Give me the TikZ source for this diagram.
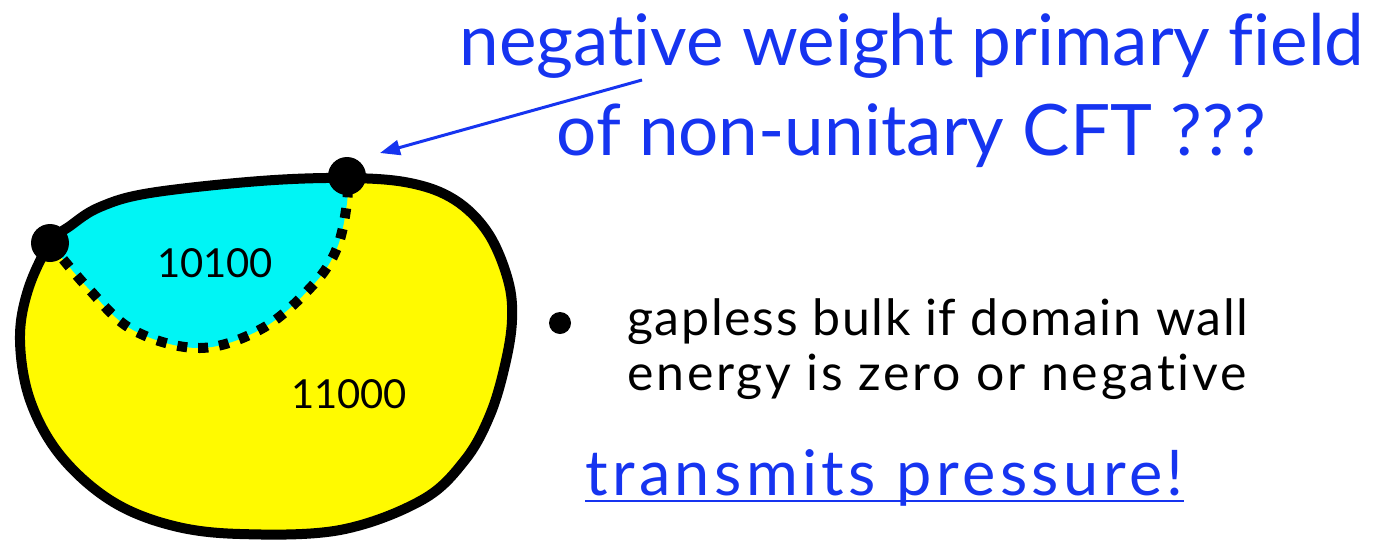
\documentclass[tikz,border=0pt]{standalone}
\usepackage{fontspec}
\setmainfont{Lato}[Ligatures={NoCommon}]
\usetikzlibrary{arrows.meta}
\definecolor{tblue}{RGB}{22,52,240}
\definecolor{byellow}{RGB}{255,250,0}
\definecolor{bcyan}{RGB}{0,245,245}
\tikzset{
  title/.style={text=tblue, inner sep=0pt, anchor=base, font=\fontsize{71}{80}\selectfont},
  bodytext/.style={text=black, inner sep=0pt, anchor=base west, font=\fontsize{50}{60}\selectfont\addfontfeatures{LetterSpace=3.4}},
  linktext/.style={text=tblue, inner sep=0pt, anchor=base west, font=\fontsize{63}{66}\selectfont\addfontfeatures{LetterSpace=7}},
  region/.style={text=black, inner sep=0pt, anchor=base, font=\fontsize{40}{50}\selectfont},
  outline/.style={draw=black, line width=10pt, line join=round},
  wall/.style={draw=black, line width=10pt, dash pattern=on 10pt off 11pt},
  vertex/.style={circle, fill=black, inner sep=0pt, minimum size=38pt},
  pointer/.style={draw=tblue, line width=3pt, -{Triangle[length=20pt,width=15pt]}},
}
\begin{document}
\begin{tikzpicture}[x=1pt, y=-1pt]
\useasboundingbox (0,0) rectangle (1382,547);
% yellow blob
\fill[byellow] plot[smooth cycle, tension=0.6] coordinates {
 (50,243) (70,226) (100,207) (150,193) (260,181) (347,178) (410,183) (455,200)
 (488,233) (508,280) (512,320) (505,365) (490,415) (465,460) (422,500) (340,530)
 (240,534) (170,525) (110,500) (60,455) (30,400) (20,340) (28,290)};
% cyan region
\fill[bcyan] plot[smooth, tension=0.6] coordinates {
 (50,243) (70,226) (100,207) (150,193) (260,181) (347,178)}
 -- plot[smooth, tension=0.6] coordinates {
 (347,178) (347,203) (337,248) (313,285) (263,328) (200,348) (133,330) (87,287) (50,243)} -- cycle;
% domain wall
\draw[wall] plot[smooth, tension=0.6] coordinates {
 (50,243) (87,287) (133,330) (200,348) (263,328) (313,285) (337,248) (347,203) (347,178)};
% outline
\draw[outline] plot[smooth cycle, tension=0.6] coordinates {
 (50,243) (70,226) (100,207) (150,193) (260,181) (347,178) (410,183) (455,200)
 (488,233) (508,280) (512,320) (505,365) (490,415) (465,460) (422,500) (340,530)
 (240,534) (170,525) (110,500) (60,455) (30,400) (20,340) (28,290)};
% dots
\node[vertex] (dotL) at (50,243) {};
\node[vertex] (dotR) at (347,176) {};
% region labels
\node[region] (lab1) at (215,277) {10100};
\node[region] (lab2) at (349,408) {11000};
% title
\node[title] (t1) at (912,65) {negative weight primary field};
\node[title] (t2) at (911,155) {of non-unitary CFT ???};
% arrow
\coordinate (arrS) at (642,80);
\coordinate (arrE) at (380,153);
\draw[pointer] (arrS) -- (arrE);
% bullet
\node[circle, fill=black, inner sep=0pt, minimum size=22pt] (bul) at (560,323) {};
\node[bodytext] (b1) at (627,335) {gapless bulk if domain wall};
\node[bodytext, font=\fontsize{50}{60}\selectfont\addfontfeatures{LetterSpace=5.5}] (b2) at (627,390) {energy is zero or negative};
% link
\node[linktext] (tp) at (585,495) {transmits pressure!};
\draw[tblue, line width=2.5pt] ([yshift=-6pt]tp.base west) -- ([yshift=-6pt]tp.base east);
\end{tikzpicture}
\end{document}
